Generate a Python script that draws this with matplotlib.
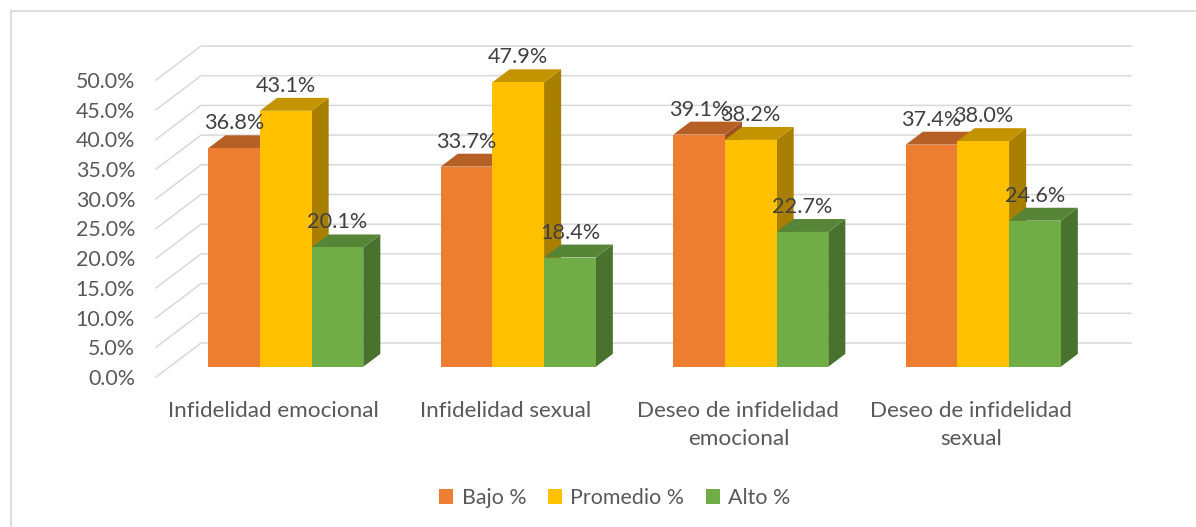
import matplotlib
matplotlib.use('Agg')
import matplotlib.pyplot as plt
from matplotlib.colors import to_rgb
from matplotlib.lines import Line2D
from matplotlib.patches import Patch, Polygon

plt.rcParams['font.family'] = ['Lato', 'DejaVu Sans']

categories = ['Infidelidad emocional', 'Infidelidad sexual',
              'Deseo de infidelidad\nemocional', 'Deseo de infidelidad\nsexual']
series_names = ['Bajo %', 'Promedio %', 'Alto %']
bajo = [36.8, 33.7, 39.1, 37.4]
promedio = [43.1, 47.9, 38.2, 38.0]
alto = [20.1, 18.4, 22.7, 24.6]
y_ticks = [0, 5, 10, 15, 20, 25, 30, 35, 40, 45, 50]

colors = ['#ED7D31', '#FFC000', '#70AD47']
GRID = '#D9D9D9'
TEXT = '#595959'
LABEL = '#404040'

W, H = 1196, 527
AX_LEFT, AX_BOTTOM, AX_W, AX_H = 156, 377, 930, 297
# oblique depth of the floor, in data units
DEPTH_X = 45 / AX_W * 4
DEPTH_Y = 34 / AX_H * 50
BAR_D0, BAR_D1 = 0.30, 0.68
BAR_W = 0.2222


def project(x, y, d):
    return x + d * DEPTH_X, y + d * DEPTH_Y


def shade(color, factor):
    return tuple(c * factor for c in to_rgb(color))


def draw_bar(ax, x, value, color, z):
    x0, x1 = x, x + BAR_W
    front = [project(x0, 0, BAR_D0), project(x1, 0, BAR_D0),
             project(x1, value, BAR_D0), project(x0, value, BAR_D0)]
    top = [project(x0, value, BAR_D0), project(x1, value, BAR_D0),
           project(x1, value, BAR_D1), project(x0, value, BAR_D1)]
    side = [project(x1, 0, BAR_D0), project(x1, 0, BAR_D1),
            project(x1, value, BAR_D1), project(x1, value, BAR_D0)]
    ax.add_patch(Polygon(side, closed=True, fc=shade(color, 0.66), ec='none', zorder=z, clip_on=False))
    ax.add_patch(Polygon(top, closed=True, fc=shade(color, 0.77), ec='none', zorder=z, clip_on=False))
    ax.add_patch(Polygon(front, closed=True, fc=color, ec='none', zorder=z + 0.1, clip_on=False))


fig = plt.figure(figsize=(W / 100, H / 100), dpi=100)
ax = fig.add_axes([AX_LEFT / W, 1 - AX_BOTTOM / H, AX_W / W, AX_H / H])
ax.set_xlim(0, 4)
ax.set_ylim(0, 50)
for spine in ax.spines.values():
    spine.set_visible(False)

# back wall and side wall gridlines
for tick in y_ticks:
    xs, ys = zip(project(0, tick, 0), project(0, tick, 1), project(4, tick, 1))
    ax.plot(xs, ys, color=GRID, lw=1.1, zorder=1, clip_on=False, solid_joinstyle='miter')

gap = (1 - 3 * BAR_W) / 2
z = 2
for i in range(len(categories)):
    for j, values in enumerate([bajo, promedio, alto]):
        x = i + gap + j * BAR_W
        draw_bar(ax, x, values[i], colors[j], z)
        z += 1
        px, py = project(x + BAR_W / 2, values[i], BAR_D0)
        ax.annotate(f'{values[i]:.1f}%', (px, py), xytext=(0, 18), textcoords='offset points',
                    ha='center', va='center', fontsize=15.6, color=LABEL, zorder=100,
                    annotation_clip=False)

ax.set_yticks(y_ticks)
ax.set_yticklabels([f'{t:.1f}%' for t in y_ticks])
ax.set_xticks([i + 0.5 + 0.005 for i in range(len(categories))])
ax.set_xticklabels(categories, linespacing=1.5)
ax.tick_params(axis='y', length=0, pad=15, labelsize=15.4, labelcolor=TEXT)
ax.tick_params(axis='x', length=0, pad=17, labelsize=16.2, labelcolor=TEXT)

handles = [Patch(fc=c, ec='none', label=n) for c, n in zip(colors, series_names)]
fig.legend(handles=handles, loc='center', bbox_to_anchor=(615 / W, 1 - 498 / H), ncol=3,
           frameon=False, fontsize=15.4, labelcolor=TEXT, handlelength=0.65, handleheight=0.65,
           handletextpad=0.4, columnspacing=1.0)

# chart frame, only top and left edges fall inside the picture
fig.add_artist(Line2D([10.5 / W, 10.5 / W, 1], [0, 1 - 10.5 / H, 1 - 10.5 / H],
                      color=GRID, lw=1.3, solid_joinstyle='miter'))

fig.savefig('out.png', dpi=100)
plt.close()
